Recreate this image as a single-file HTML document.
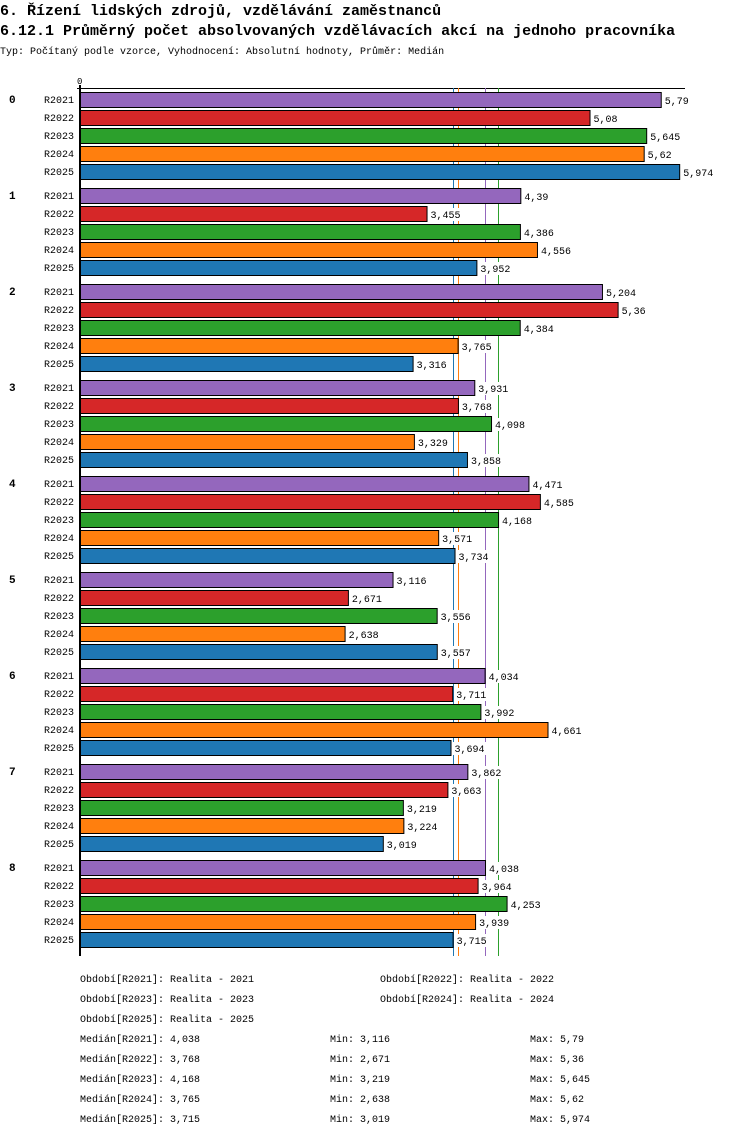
<!DOCTYPE html>
<html><head><meta charset="utf-8"><style>
body{margin:0;background:#fff;width:750px;height:1136px;overflow:hidden;font-family:"Liberation Mono",monospace}
svg text{font-family:"Liberation Mono",monospace}
</style></head><body>
<svg id="c" width="750" height="1136" xmlns="http://www.w3.org/2000/svg">
<text x="0" y="15" font-size="15" font-weight="bold">6. Řízení lidských zdrojů, vzdělávání zaměstnanců</text>
<text x="0" y="35" font-size="15" font-weight="bold">6.12.1 Průměrný počet absolvovaných vzdělávacích akcí na jednoho pracovníka</text>
<text x="0" y="54" font-size="10">Typ: Počítaný podle vzorce, Vyhodnocení: Absolutní hodnoty, Průměr: Medián</text>
<g id="plot"></g>
</svg>
<script>
const groups=["0","1","2","3","4","5","6","7","8"];
const series=["R2021","R2022","R2023","R2024","R2025"];
const colors=["#9467bd","#d62728","#2ca02c","#ff7f0e","#1f77b4"];
const v2021=[5.79,4.39,5.204,3.931,4.471,3.116,4.034,3.862,4.038];
const v2022=[5.08,3.455,5.36,3.768,4.585,2.671,3.711,3.663,3.964];
const v2023=[5.645,4.386,4.384,4.098,4.168,3.556,3.992,3.219,4.253];
const v2024=[5.62,4.556,3.765,3.329,3.571,2.638,4.661,3.224,3.939];
const v2025=[5.974,3.952,3.316,3.858,3.734,3.557,3.694,3.019,3.715];
const medians=[4.038,3.768,4.168,3.765,3.715];
const mins=[3.116,2.671,3.219,2.638,3.019];
const maxs=[5.79,5.36,5.645,5.62,5.974];
const vals=[v2021,v2022,v2023,v2024,v2025];
const NS="http://www.w3.org/2000/svg";
const g=document.getElementById('plot');
const X0=80,K=100.3;
const x=v=>X0+v*K;
const yRow=(gi,si)=>92+gi*96+si*18;
const fmt=v=>String(v).replace('.',',');
function mk(tag,at,txt){const e=document.createElementNS(NS,tag);for(const k in at)e.setAttribute(k,at[k]);if(txt!==undefined)e.textContent=txt;g.appendChild(e);return e;}
let e;
e=mk('text',{x:77,y:84,'font-size':9},'0');


e=mk('line',{x1:77,y1:88.5,x2:685,y2:88.5,stroke:'#000'});


medians.forEach((m,i)=>{
  e=mk('line',{x1:Math.round(x(m))+0.5,y1:88,x2:Math.round(x(m))+0.5,y2:956,stroke:colors[i],'stroke-width':1});
  
  
});
groups.forEach((gn,gi)=>{
  e=mk('text',{x:9,y:yRow(gi,0)+11,'font-size':11,'font-weight':'bold'},gn);
  
  
  series.forEach((s,si)=>{
    const y=yRow(gi,si),v=vals[si][gi];
    e=mk('text',{x:44,y:y+11,'font-size':10},s);
    
    
    e=mk('rect',{x:X0+0.5,y:y+0.5,width:x(v)-X0,height:15,fill:colors[si],stroke:'#000','stroke-width':1});
    
    
    e=mk('rect',{x:x(v)+2,y:y+2,width:fmt(v).length*6+4,height:13,fill:'#fff'});
    
    
    e=mk('text',{x:x(v)+4,y:y+12,'font-size':10},fmt(v));
    
    
  });
});
e=mk('line',{x1:80,y1:85,x2:80,y2:956,stroke:'#000','stroke-width':2});


const legend=[["Období[R2021]: Realita - 2021",80,982],["Období[R2022]: Realita - 2022",380,982],["Období[R2023]: Realita - 2023",80,1002],["Období[R2024]: Realita - 2024",380,1002],["Období[R2025]: Realita - 2025",80,1022]];
legend.forEach(l=>{
  e=mk('text',{x:l[1],y:l[2],'font-size':10},l[0]);
  
  
});
series.forEach((s,i)=>{
  const y=1042+i*20;
  e=mk('text',{x:80,y:y,'font-size':10},'Medián['+s+']: '+fmt(medians[i]));
  
  
  e=mk('text',{x:330,y:y,'font-size':10},'Min: '+fmt(mins[i]));
  
  
  e=mk('text',{x:530,y:y,'font-size':10},'Max: '+fmt(maxs[i]));
  
  
});
</script>
</body></html>
